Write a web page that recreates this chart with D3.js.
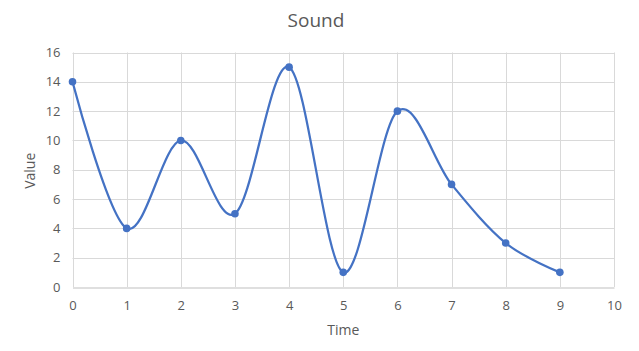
<!DOCTYPE html>
<html>
<head>
<meta charset="utf-8">
<script src="https://cdn.jsdelivr.net/npm/d3@7"></script>
<style>
  body { margin: 0; background: #fff; }
  text { font-family: "Open Sans", "Noto Sans", sans-serif; fill: #595959; }
</style>
</head>
<body>
<script>
// chart data
const times = [0, 1, 2, 3, 4, 5, 6, 7, 8, 9]
const values = [14, 4, 10, 5, 15, 1, 12, 7, 3, 1]
const xTicks = [0, 1, 2, 3, 4, 5, 6, 7, 8, 9, 10]
const yTicks = [0, 2, 4, 6, 8, 10, 12, 14, 16]

const W = 639, H = 351
const margin = {top: 52.5, right: 25, bottom: 64, left: 72.5}
const width = W - margin.left - margin.right
const height = H - margin.top - margin.bottom

const svg = d3.select('body').append('svg')
    .attr('width', W)
    .attr('height', H)

const x = d3.scaleLinear().domain([0, 10]).range([margin.left, margin.left + width])
const y = d3.scaleLinear().domain([0, 16]).range([margin.top + height, margin.top])

// gridlines
svg.append('g')
    .selectAll('line.h').data(yTicks.slice(1)).enter()
    .append('line')
    .attr('x1', x(0)).attr('x2', x(10))
    .attr('y1', d => Math.round(y(d)) + 0.5).attr('y2', d => Math.round(y(d)) + 0.5)
    .attr('stroke', '#d9d9d9')
svg.append('g')
    .selectAll('line.v').data(xTicks).enter()
    .append('line')
    .attr('y1', y(16)).attr('y2', y(0))
    .attr('x1', d => Math.round(x(d)) + 0.5).attr('x2', d => Math.round(x(d)) + 0.5)
    .attr('stroke', '#d9d9d9')

// x axis
const xAxis = svg.append('g')
    .attr('transform', 'translate(0,' + (Math.round(y(0)) + 0.5) + ')')
    .call(d3.axisBottom(x).tickValues(xTicks).tickSize(0).tickPadding(13))
xAxis.select('.domain').attr('stroke', '#bfbfbf')
xAxis.selectAll('text').style('font-size', '13px').attr('fill', '#595959')

// y axis
const yAxis = svg.append('g')
    .attr('transform', 'translate(' + (margin.left - 4) + ',0)')
    .call(d3.axisLeft(y).tickValues(yTicks).tickSize(0).tickPadding(8))
yAxis.select('.domain').remove()
yAxis.selectAll('text').style('font-size', '13px').attr('fill', '#595959')

// titles
svg.append('text')
    .attr('x', 316).attr('y', 27)
    .attr('text-anchor', 'middle')
    .style('font-size', '19px')
    .text('Sound')

svg.append('text')
    .attr('x', x(5)).attr('y', 335)
    .attr('text-anchor', 'middle')
    .style('font-size', '14px')
    .text('Time')

svg.append('text')
    .attr('transform', 'translate(35,' + (y(8) + 1) + ') rotate(-90)')
    .attr('text-anchor', 'middle')
    .style('font-size', '14px')
    .text('Value')

// smoothed line
const data = times.map((t, i) => ({t: t, v: values[i]}))
const line = d3.line()
    .x(d => x(d.t))
    .y(d => y(d.v))
    .curve(d3.curveCardinal.tension(0))

svg.append('path')
    .datum(data)
    .attr('d', line)
    .attr('fill', 'none')
    .attr('stroke', '#4472c4')
    .attr('stroke-width', 2.25)

svg.selectAll('.dot').data(data)
    .enter()
    .append('circle')
        .attr('cx', d => x(d.t))
        .attr('cy', d => y(d.v))
        .attr('r', 3.8)
        .attr('fill', '#4472c4')
</script>
</body>
</html>
